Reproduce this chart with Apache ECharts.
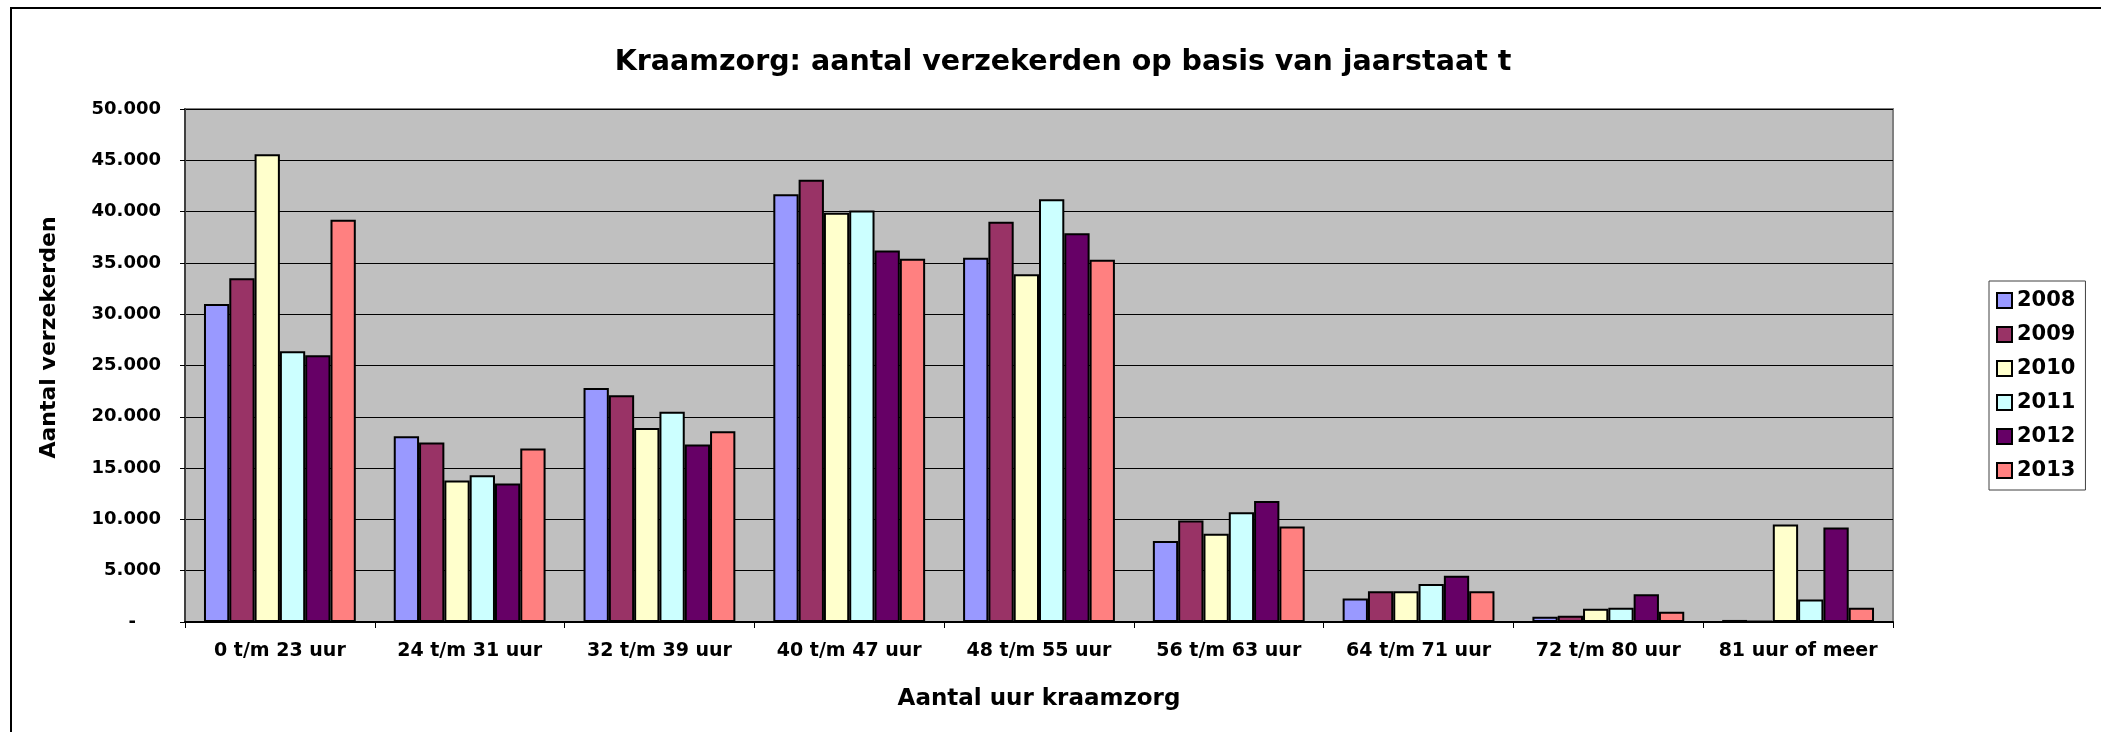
<!DOCTYPE html>
<html>
<head>
<meta charset="utf-8">
<script src="https://cdn.jsdelivr.net/npm/echarts@6/dist/echarts.min.js"></script>
<style>
html, body { margin: 0; padding: 0; background: #fff; }
#chart { width: 2101px; height: 732px; }
</style>
</head>
<body>
<div id="chart"></div>
<script>
var categories = ['0 t/m 23 uur', '24 t/m 31 uur', '32 t/m 39 uur', '40 t/m 47 uur', '48 t/m 55 uur',
                  '56 t/m 63 uur', '64 t/m 71 uur', '72 t/m 80 uur', '81 uur of meer'];
var years = ['2008', '2009', '2010', '2011', '2012', '2013'];
var colors = ['#9999FF', '#993366', '#FFFFCC', '#CCFFFF', '#660066', '#FF8080'];

var v2008 = [31000, 18100, 22800, 41700, 35500, 7900, 2300, 500, 200];
var v2009 = [33500, 17500, 22100, 43100, 39000, 9900, 3000, 600, 100];
var v2010 = [45600, 13800, 18900, 39900, 33900, 8600, 3000, 1300, 9500];
var v2011 = [26400, 14300, 20500, 40100, 41200, 10700, 3700, 1400, 2200];
var v2012 = [26000, 13500, 17300, 36200, 37900, 11800, 4500, 2700, 9200];
var v2013 = [39200, 16900, 18600, 35400, 35300, 9300, 3000, 1000, 1400];
var values = [v2008, v2009, v2010, v2011, v2012, v2013];

var yTicks = [0, 5000, 10000, 15000, 20000, 25000, 30000, 35000, 40000, 45000, 50000];
var yTickLabels = ['-', '5.000', '10.000', '15.000', '20.000', '25.000', '30.000', '35.000', '40.000', '45.000', '50.000'];

var font = "'DejaVu Sans', Verdana, sans-serif";

var myChart = echarts.init(document.getElementById('chart'));

var series = [];
for (var i = 0; i < years.length; i++) {
  series.push({
    name: years[i],
    type: 'bar',
    data: values[i],
    barGap: '0%',
    barCategoryGap: '20%',
    itemStyle: {
      color: colors[i],
      borderColor: '#000',
      borderWidth: 2
    }
  });
}

var option = {
  animation: false,
  backgroundColor: '#fff',
  title: {
    text: 'Kraamzorg: aantal verzekerden op basis van jaarstaat t',
    left: 1058,
    textAlign: 'center',
    top: 43,
    textStyle: { fontFamily: font, fontSize: 28.5, fontWeight: 'bold', color: '#000' }
  },
  legend: {
    data: years,
    orient: 'vertical',
    left: 1989,
    top: 281,
    padding: [9, 10, 9, 7],
    itemWidth: 15,
    itemHeight: 15,
    itemGap: 13,
    icon: 'rect',
    borderColor: '#404040',
    borderWidth: 1,
    textStyle: { fontFamily: font, fontSize: 21, fontWeight: 'bold', color: '#000' }
  },
  grid: {
    left: 185,
    right: 208,
    top: 109,
    bottom: 110,
    show: true,
    backgroundColor: '#C0C0C0',
    borderColor: '#808080',
    borderWidth: 2
  },
  xAxis: {
    type: 'category',
    data: categories,
    name: 'Aantal uur kraamzorg',
    nameLocation: 'middle',
    nameGap: 66,
    nameTextStyle: { fontFamily: font, fontSize: 23, fontWeight: 'bold', color: '#000' },
    axisLine: { lineStyle: { color: '#000', width: 2 } },
    axisTick: { show: true, length: 6, lineStyle: { color: '#000', width: 1 } },
    axisLabel: { interval: 0, margin: 20, fontFamily: font, fontSize: 19, fontWeight: 'bold', color: '#000' }
  },
  yAxis: {
    type: 'value',
    min: 0,
    max: 50000,
    interval: 5000,
    name: 'Aantal verzekerden',
    nameLocation: 'middle',
    nameGap: 125,
    nameTextStyle: { fontFamily: font, fontSize: 22, fontWeight: 'bold', color: '#000', padding: [0, 0, 0, 56] },
    axisLine: { show: true, lineStyle: { color: '#404040', width: 2 } },
    axisTick: { show: true, length: 5, lineStyle: { color: '#000', width: 1 } },
    splitLine: { lineStyle: { color: '#000', width: 1 } },
    axisLabel: {
      margin: 24,
      fontFamily: font, fontSize: 18, fontWeight: 'bold', color: '#000',
      formatter: function (v) {
        var s = yTickLabels[yTicks.indexOf(v)];
        return v === 0 ? '{dash|' + s + '}' : s;
      },
      rich: {
        dash: { fontFamily: font, fontSize: 18, fontWeight: 'bold', color: '#000', padding: [0, 25, 0, 0] }
      }
    }
  },
  graphic: [{
    type: 'rect',
    shape: { x: 11, y: 8, width: 2300, height: 900 },
    style: { fill: 'none', stroke: '#000', lineWidth: 2 },
    silent: true
  }],
  series: series
};
myChart.setOption(option);
</script>
</body>
</html>
